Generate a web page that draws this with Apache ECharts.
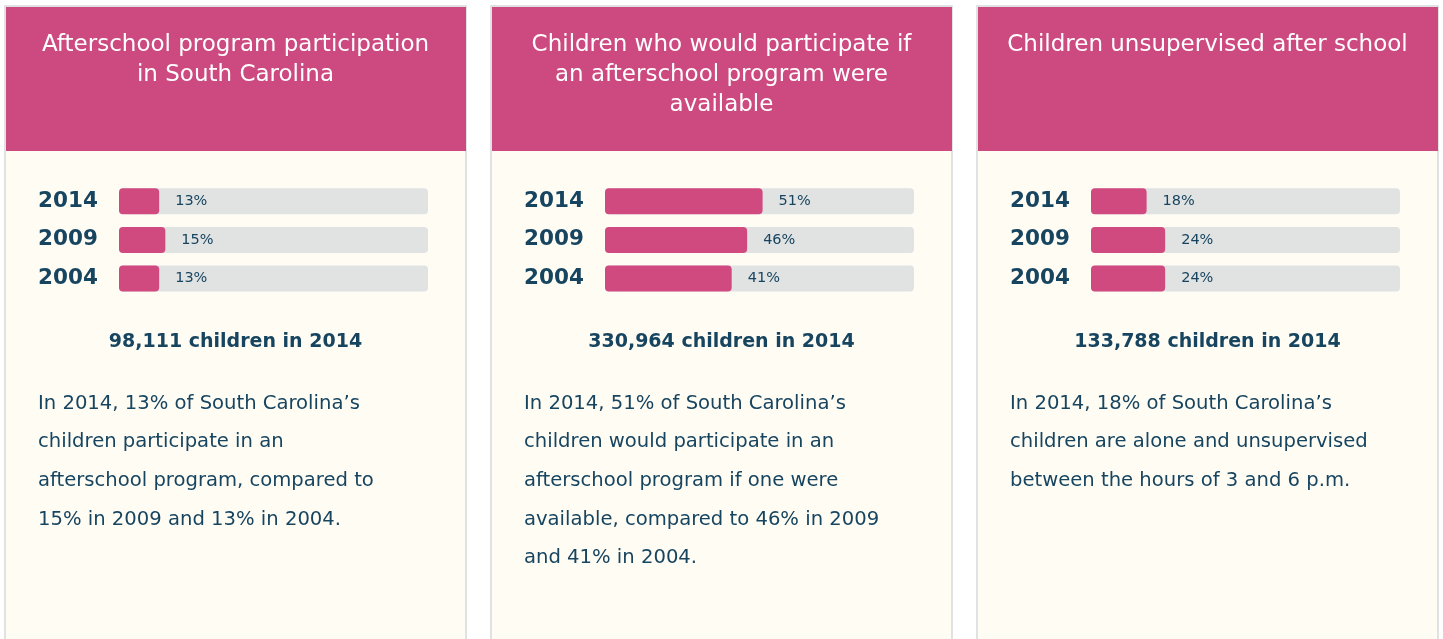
<!DOCTYPE html>
<html>
<head>
<meta charset="utf-8">
<script src="https://cdn.jsdelivr.net/npm/echarts@6/dist/echarts.min.js"></script>
<style>
  html, body { margin: 0; padding: 0; background: #fff; }
  #chart { width: 1443px; height: 639px; }
</style>
</head>
<body>
<div id="chart"></div>
<script>
// data
var years = ['2014', '2009', '2004']
var participation = [13, 15, 13]
var wouldParticipate = [51, 46, 41]
var unsupervised = [18, 24, 24]
var panelTitles = [
  'Afterschool program participation\nin South Carolina',
  'Children who would participate if\nan afterschool program were\navailable',
  'Children unsupervised after school'
]
var childCounts = ['98,111', '330,964', '133,788']
var paragraphs = [
  'In 2014, 13% of South Carolina\u2019s\nchildren participate in an\nafterschool program, compared to\n15% in 2009 and 13% in 2004.',
  'In 2014, 51% of South Carolina\u2019s\nchildren would participate in an\nafterschool program if one were\navailable, compared to 46% in 2009\nand 41% in 2004.',
  'In 2014, 18% of South Carolina\u2019s\nchildren are alone and unsupervised\nbetween the hours of 3 and 6 p.m.'
]
var seriesData = [participation, wouldParticipate, unsupervised]

var pink = '#cd4a80'
var barPink = '#d04a80'
var navy = '#174560'
var font = '"DejaVu Sans", sans-serif'

// panel geometry
var panelLeft = [5, 491, 977]
var panelWidth = 461

var chart = echarts.init(document.getElementById('chart'))

var graphics = []
var grids = []
var xAxes = []
var yAxes = []
var series = []

panelLeft.forEach(function(x0, i) {
  var cx = x0 + panelWidth / 2
  graphics.push({
    type: 'rect', z: -5,
    shape: { x: x0, y: 6, width: panelWidth, height: 660 },
    style: { fill: '#fffcf4', stroke: '#d6d9dc', lineWidth: 1.5 }
  })
  graphics.push({
    type: 'rect', z: -4,
    shape: { x: x0 + 1, y: 7, width: panelWidth - 1, height: 144 },
    style: { fill: pink }
  })
  graphics.push({
    type: 'text', z: 5,
    style: {
      x: cx, y: 30, text: panelTitles[i], fill: '#fff',
      font: '23px ' + font, textAlign: 'center', textVerticalAlign: 'top',
      lineHeight: 30
    }
  })
  graphics.push({
    type: 'text', z: 5,
    style: {
      x: cx, y: 342, text: childCounts[i] + ' children in 2014', fill: navy,
      font: 'bold 19px ' + font, textAlign: 'center', textVerticalAlign: 'middle'
    }
  })
  graphics.push({
    type: 'text', z: 5,
    style: {
      x: x0 + 33, y: 384.5, text: paragraphs[i], fill: navy,
      font: '19.6px ' + font, textAlign: 'left', textVerticalAlign: 'top',
      lineHeight: 38.6
    }
  })

  var barLeft = x0 + 114
  grids.push({ left: barLeft, top: 182, width: 309, height: 115.8 })
  xAxes.push({ gridIndex: i, type: 'value', min: 0, max: 100, show: false })
  yAxes.push({
    gridIndex: i, type: 'category', data: years, inverse: true,
    axisLine: { show: false }, axisTick: { show: false }, splitLine: { show: false },
    axisLabel: {
      align: 'left', margin: 81, color: navy,
      fontFamily: font, fontWeight: 'bold', fontSize: 21.5,
      padding: [3, 0, 0, 0]
    }
  })
  series.push({
    type: 'bar', xAxisIndex: i, yAxisIndex: i,
    data: seriesData[i], barWidth: 26,
    showBackground: true,
    backgroundStyle: { color: '#e1e2e2', borderRadius: 4 },
    itemStyle: { color: barPink, borderRadius: 4 },
    label: {
      show: true, position: 'right', distance: 16, formatter: '{c}%',
      color: navy, fontFamily: font, fontSize: 14.5
    },
    silent: true
  })
})

chart.setOption({
  animation: false,
  backgroundColor: '#fff',
  graphic: { elements: graphics },
  grid: grids,
  xAxis: xAxes,
  yAxis: yAxes,
  series: series
})
</script>
</body>
</html>
